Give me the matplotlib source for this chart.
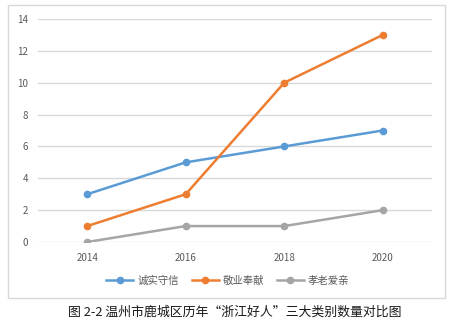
import matplotlib
matplotlib.use("Agg")
import matplotlib.pyplot as plt
from matplotlib.patches import Rectangle

plt.rcParams['font.family'] = ['Noto Sans CJK SC', 'DejaVu Sans']

# 历年数据
years = ["2014", "2016", "2018", "2020"]
chengshi = [3, 5, 6, 7]      # 诚实守信
jingye = [1, 3, 10, 13]      # 敬业奉献
xiaolao = [0, 1, 1, 2]       # 孝老爱亲
series_names = ["诚实守信", "敬业奉献", "孝老爱亲"]
colors = ["#5B9BD5", "#ED7D31", "#A5A5A5"]

fig = plt.figure(figsize=(4.54, 3.24), dpi=100)
W, H = 454, 324

# 图表外框
fig.patches.append(Rectangle((8 / W, 1 - 298 / H), 437 / W, 293 / H,
                             transform=fig.transFigure, fill=False,
                             edgecolor="#D9D9D9", linewidth=1.0))

ax = fig.add_axes([38 / W, 1 - 242 / H, 394 / W, 223 / H])
x = list(range(len(years)))
for vals, name, c in zip([chengshi, jingye, xiaolao], series_names, colors):
    ax.plot(x, vals, color=c, linewidth=1.8, marker="o", markersize=4.5,
            label=name, zorder=3)

ax.set_xlim(-0.5, len(years) - 0.5)
ax.set_ylim(0, 14)
ax.set_yticks(range(0, 15, 2))
ax.set_xticks(x)
ax.set_xticklabels(years)
ax.grid(axis="y", color="#D9D9D9", linewidth=1.0, zorder=0)
ax.tick_params(axis="y", length=0, pad=7, labelsize=7, labelcolor="#595959")
ax.tick_params(axis="x", length=0, pad=8, labelsize=7, labelcolor="#595959")
for s in ax.spines.values():
    s.set_visible(False)

fig.legend(loc="center", bbox_to_anchor=(228 / W, 1 - 281 / H), ncol=3,
           frameon=False, fontsize=7.5, handlelength=2.6, columnspacing=1.2,
           handletextpad=0.4, labelcolor="#595959")

fig.text(235 / W, 1 - 312 / H, "图 2-2 温州市鹿城区历年“浙江好人”三大类别数量对比图",
         ha="center", va="center", fontsize=9.3, color="#1a1a1a")

fig.savefig("out.png", dpi=100)
